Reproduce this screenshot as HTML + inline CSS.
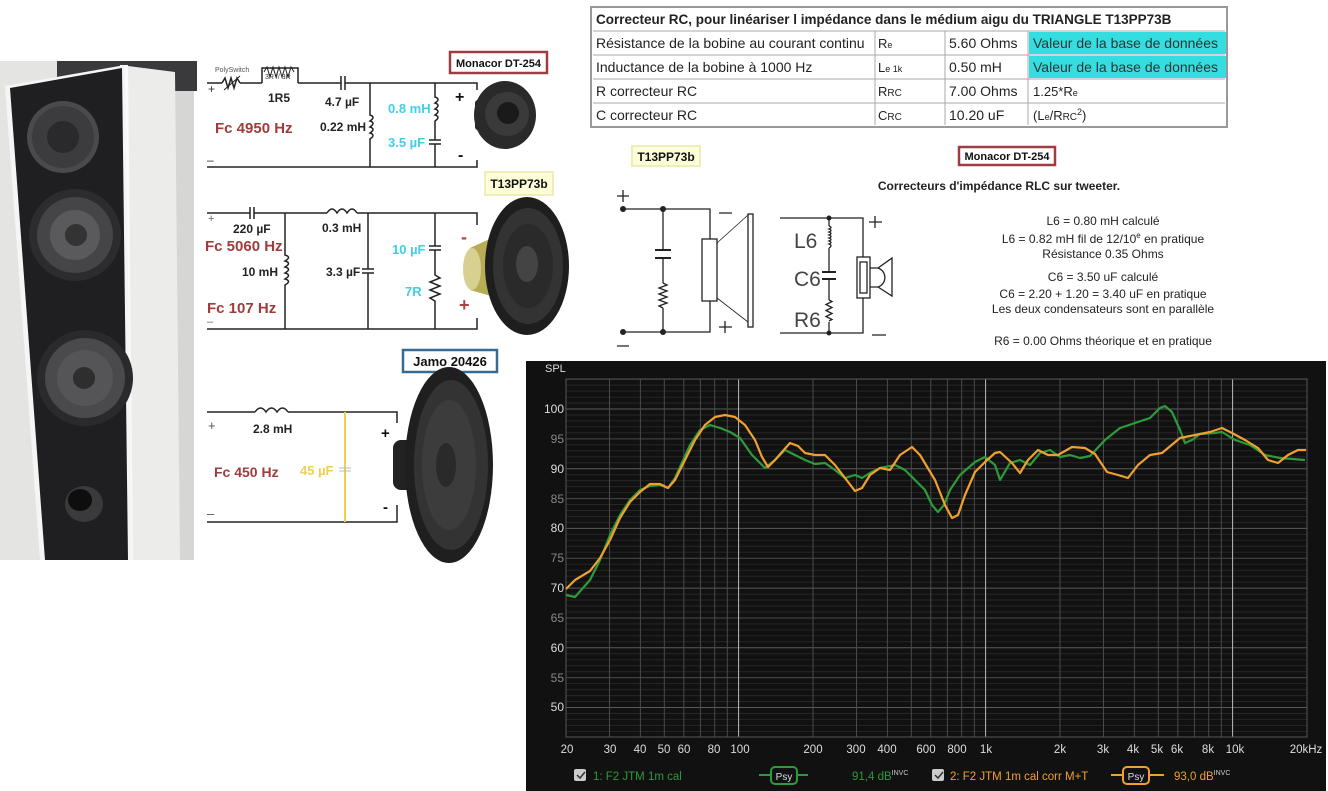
<!DOCTYPE html>
<html><head><meta charset="utf-8"><style>
html,body{margin:0;padding:0;background:#fff;width:1328px;height:791px;overflow:hidden}
svg{display:block}
text{font-family:"Liberation Sans",Arial,sans-serif}
</style></head><body>
<svg width="1328" height="791" viewBox="0 0 1328 791" xmlns="http://www.w3.org/2000/svg">
<!-- ===== Photo of speaker ===== -->
<rect x="0" y="61" width="194" height="499" fill="#d6d6d4"/>
<rect x="0" y="61" width="60" height="499" fill="#e4e4e2"/>
<rect x="57" y="61" width="140" height="30" fill="#3a3a3c"/>
<polygon points="120,65 175,72 180,560 128,560" fill="#ececea"/>
<polygon points="120,65 128,65 133,560 126,560" fill="#fafafa"/>
<polygon points="5,86 125,65 132,560 40,560" fill="#f5f5f5"/>
<polygon points="10,88 122,68 128,560 45,560" fill="#1f1f21"/>
<circle cx="63" cy="137" r="36" fill="#4a4a4c"/><circle cx="63" cy="137" r="31" fill="#3c3c3e"/><circle cx="63" cy="137" r="16" fill="#2a2a2c"/>
<circle cx="75" cy="235" r="46" fill="#2c2c2e"/><circle cx="75" cy="235" r="38" fill="#454547"/><circle cx="75" cy="235" r="25" fill="#5a5a5c"/><circle cx="76" cy="235" r="11" fill="#333"/>
<circle cx="85" cy="378" r="48" fill="#2a2a2c"/><circle cx="85" cy="378" r="40" fill="#4a4a4c"/><circle cx="85" cy="378" r="28" fill="#555557"/><circle cx="84" cy="378" r="11" fill="#2e2e2e"/>
<ellipse cx="84" cy="504" rx="19" ry="18" fill="#3a3a3c"/><ellipse cx="80" cy="500" rx="12" ry="11" fill="#0e0e0e"/>
<!-- ===== Circuit 1 ===== -->
<g stroke="#222" stroke-width="1.5" fill="none">
<path d="M207 83 H222 M240 83 H262 M298 83 H341 M345 83 H477 V90 M477 160 V167 H207"/>
<path d="M222 83 l3 -5 l3 10 l3 -10 l3 10 l3 -10 l3 5" />
<path d="M224 90 L240 76" stroke-width="1"/>
<path d="M262 83 V68 H298 V83"/>
<path d="M264 72 l3 -5 l3 10 l3 -10 l3 10 l3 -10 l3 10 l3 -10 l3 10 l3 -10 l3 5" stroke-width="1"/>
<path d="M341 76 V90 M345 76 V90"/>
<path d="M370 83 V115 q6 2 0 6 q6 2 0 6 q6 2 0 6 q6 2 0 6 V167"/>
<path d="M435 83 V97 q6 2 0 6 q6 2 0 6 q6 2 0 6 q6 2 0 6 V140 M435 144 V167"/>
<path d="M429 140 H441 M429 144 H441"/>
</g>
<text x="215" y="72" font-size="7" fill="#555">PolySwitch</text>
<text x="265" y="79" font-size="7" fill="#333">3R // 3R</text>
<text x="208" y="93" font-size="12" fill="#333">+</text>
<text x="207" y="164" font-size="12" fill="#333">–</text>
<text x="268" y="102" font-size="12" font-weight="bold" fill="#222">1R5</text>
<text x="325" y="106" font-size="12" font-weight="bold" fill="#222">4.7 µF</text>
<text x="320" y="131" font-size="12" font-weight="bold" fill="#222">0.22 mH</text>
<text x="215" y="133" font-size="15" font-weight="bold" fill="#a03c3c">Fc 4950 Hz</text>
<text x="388" y="113" font-size="13" font-weight="bold" fill="#3fd0e8">0.8 mH</text>
<text x="388" y="147" font-size="13" font-weight="bold" fill="#3fd0e8">3.5 µF</text>
<text x="455" y="102" font-size="16" font-weight="bold" fill="#111">+</text>
<text x="458" y="160" font-size="16" font-weight="bold" fill="#111">-</text>
<rect x="450" y="52" width="97" height="21" fill="#fff" stroke="#a03c40" stroke-width="2.5"/>
<text x="498.5" y="67" font-size="11" font-weight="bold" fill="#111" text-anchor="middle">Monacor DT-254</text>
<rect x="475" y="100" width="12" height="30" rx="3" fill="#222"/>
<ellipse cx="505" cy="115" rx="31" ry="34" fill="#2a2a2a"/><circle cx="507" cy="114" r="22" fill="#3a3a3a"/><circle cx="508" cy="113" r="11" fill="#1a1a1a"/>
<!-- ===== Circuit 2 ===== -->
<g stroke="#222" stroke-width="1.5" fill="none">
<path d="M207 213 H250 M254 213 H327 M357 213 H477 V225 M477 318 V329 H207"/>
<path d="M250 207 V219 M254 207 V219"/>
<path d="M327 213 q5 -8 10 0 q5 -8 10 0 q5 -8 10 0"/>
<path d="M285 213 V255 q7 2 0 6 q7 2 0 6 q7 2 0 6 q7 2 0 6 q7 2 0 6 V329"/>
<path d="M368 213 V269 M368 273 V329 M362 269 H374 M362 273 H374"/>
<path d="M435 213 V246 M435 250 V275 l5 3 l-10 4 l10 4 l-10 4 l10 4 l-10 4 l5 3 V329 M429 246 H441 M429 250 H441"/>
</g>
<text x="208" y="222" font-size="11" fill="#666">+</text>
<text x="207" y="325" font-size="11" fill="#666">–</text>
<text x="233" y="233" font-size="12" font-weight="bold" fill="#222">220 µF</text>
<text x="205" y="251" font-size="15" font-weight="bold" fill="#a03c3c">Fc 5060 Hz</text>
<text x="242" y="276" font-size="12" font-weight="bold" fill="#222">10 mH</text>
<text x="207" y="313" font-size="15" font-weight="bold" fill="#a03c3c">Fc 107 Hz</text>
<text x="322" y="232" font-size="12" font-weight="bold" fill="#222">0.3 mH</text>
<text x="326" y="276" font-size="12" font-weight="bold" fill="#222">3.3 µF</text>
<text x="392" y="254" font-size="13" font-weight="bold" fill="#3fd0e8">10 µF</text>
<text x="405" y="296" font-size="13" font-weight="bold" fill="#3fd0e8">7R</text>
<text x="461" y="243" font-size="18" font-weight="bold" fill="#b04040">-</text>
<text x="459" y="311" font-size="18" font-weight="bold" fill="#b04040">+</text>
<rect x="485" y="172" width="68" height="23" fill="#fdfdd8" stroke="#eeeebb" stroke-width="2"/>
<text x="519" y="188" font-size="12" font-weight="bold" fill="#111" text-anchor="middle">T13PP73b</text>
<polygon points="470,248 505,232 505,300 470,290" fill="#b8ac55"/>
<ellipse cx="472" cy="269" rx="9" ry="21" fill="#d8d090"/>
<ellipse cx="527" cy="266" rx="42" ry="69" fill="#1e1e1e"/><ellipse cx="528" cy="266" rx="35" ry="58" fill="#333"/><ellipse cx="528" cy="266" rx="25" ry="42" fill="#2a2a2a"/><ellipse cx="527" cy="264" rx="11" ry="18" fill="#444"/>
<!-- ===== Circuit 3 ===== -->
<g stroke="#222" stroke-width="1.5" fill="none">
<path d="M207 412 H255 M288 412 H397 V423 M397 505 V522 H207"/>
<path d="M255 412 q5.5 -8 11 0 q5.5 -8 11 0 q5.5 -8 11 0"/>
</g>
<path d="M345 412 V522" stroke="#f0cf50" stroke-width="2"/>
<path d="M339 468 H351 M339 471 H351" stroke="#bbb" stroke-width="1"/>
<text x="208" y="430" font-size="13" fill="#555">+</text>
<text x="207" y="518" font-size="13" fill="#555">–</text>
<text x="253" y="433" font-size="12" font-weight="bold" fill="#222">2.8 mH</text>
<text x="214" y="477" font-size="14" font-weight="bold" fill="#a03c3c">Fc 450 Hz</text>
<text x="300" y="475" font-size="13" font-weight="bold" fill="#efcf55">45 µF</text>
<text x="381" y="438" font-size="15" font-weight="bold" fill="#111">+</text>
<text x="383" y="512" font-size="15" font-weight="bold" fill="#111">-</text>
<rect x="403" y="350" width="94" height="22" fill="#fff" stroke="#3a6a90" stroke-width="2.5"/>
<text x="450" y="366" font-size="13" font-weight="bold" fill="#111" text-anchor="middle">Jamo 20426</text>
<rect x="393" y="440" width="25" height="50" rx="8" fill="#222"/>
<ellipse cx="449" cy="465" rx="44" ry="98" fill="#1f1f1f"/><ellipse cx="451" cy="465" rx="37" ry="85" fill="#333"/><ellipse cx="449" cy="465" rx="27" ry="65" fill="#3c3c3c"/><ellipse cx="446" cy="465" rx="10" ry="22" fill="#2a2a2a"/>
<!-- ===== Table ===== -->
<g font-size="14" fill="#222">
<rect x="591" y="7" width="636" height="120" fill="#fff" stroke="#999" stroke-width="2"/>
<rect x="1029" y="32" width="197" height="22" fill="#33dde0"/>
<rect x="1029" y="56" width="197" height="22" fill="#33dde0"/>
<g stroke="#aaa" stroke-width="1">
<path d="M593 31 H1225 M593 55 H1225 M593 79 H1225 M593 103 H1225"/>
<path d="M875 31 V125 M945 31 V125 M1028 31 V125"/>
</g>
<text x="596" y="24" font-weight="bold" font-size="13.5">Correcteur RC, pour linéariser l impédance dans le médium aigu du TRIANGLE T13PP73B</text>
<text x="596" y="48">Résistance de la bobine au courant continu</text>
<text x="596" y="72">Inductance de la bobine à 1000 Hz</text>
<text x="596" y="96">R correcteur RC</text>
<text x="596" y="120">C correcteur RC</text>
<text x="878" y="48" font-size="13">R<tspan font-size="9">e</tspan></text>
<text x="878" y="72" font-size="13">L<tspan font-size="9">e 1k</tspan></text>
<text x="878" y="96" font-size="13">R<tspan font-size="10">RC</tspan></text>
<text x="878" y="120" font-size="13">C<tspan font-size="10">RC</tspan></text>
<text x="949" y="48">5.60 Ohms</text>
<text x="949" y="72">0.50 mH</text>
<text x="949" y="96">7.00 Ohms</text>
<text x="949" y="120">10.20 uF</text>
<text x="1033" y="48" fill="#333">Valeur de la base de données</text>
<text x="1033" y="72" fill="#333">Valeur de la base de données</text>
<text x="1033" y="96" font-size="13">1.25*R<tspan font-size="9">e</tspan></text>
<text x="1033" y="120" font-size="13">(L<tspan font-size="9">e</tspan>/R<tspan font-size="10">RC</tspan><tspan font-size="9" dy="-5">2</tspan><tspan dy="5">)</tspan></text>
</g>
<!-- ===== Corrector diagrams ===== -->
<rect x="632" y="146" width="68" height="20" fill="#fdfdd8" stroke="#eeeebb" stroke-width="2"/>
<text x="666" y="161" font-size="12" font-weight="bold" fill="#111" text-anchor="middle">T13PP73b</text>
<g stroke="#222" stroke-width="1.3" fill="none">
<path d="M623 209 H710 V239 M623 332 H710 V301 M663 209 V250 M663 258 V283 M663 308 V332"/>
<path d="M655 250 H671 M655 258 H671" stroke-width="2"/>
<path d="M663 283 l4 2 l-8 3 l8 3 l-8 3 l8 3 l-8 3 l8 3 l-8 3 l4 2"/>
<rect x="702" y="239" width="15" height="62"/>
<path d="M717 243 L748 215 M717 298 L748 322" stroke-width="0.8"/>
<rect x="748" y="214" width="5" height="113"/>
<path d="M617 196 H629 M623 190 V202 M617 346 H629 M719 213 H732 M719 327 H732 M725 321 V333"/>
</g>
<g fill="#222"><circle cx="623" cy="209" r="3"/><circle cx="663" cy="209" r="3"/><circle cx="623" cy="332" r="3"/><circle cx="663" cy="332" r="3"/></g>
<rect x="959" y="147" width="96" height="18" fill="#fff" stroke="#a03c40" stroke-width="2.5"/>
<text x="1007" y="160" font-size="11" font-weight="bold" fill="#111" text-anchor="middle">Monacor DT-254</text>
<text x="999" y="190" font-size="12" font-weight="bold" fill="#222" text-anchor="middle">Correcteurs d'impédance RLC sur  tweeter.</text>
<g stroke="#222" stroke-width="1.3" fill="none">
<path d="M780 218 H863 V257 M780 333 H863 V298 M829 218 V226 M829 248 V272 M829 279 V300 M829 322 V333"/>
<path d="M829 226 q4 1.5 0 3 q4 1.5 0 3 q4 1.5 0 3 q4 1.5 0 3 q4 1.5 0 3 q4 1.5 0 3 q4 1.5 0 4"/>
<path d="M822 272 H836 M822 279 H836" stroke-width="2"/>
<path d="M829 300 l3 1.5 l-6 3 l6 3 l-6 3 l6 3 l-6 3 l6 3 l-3 1.5"/>
<rect x="857" y="257" width="13" height="41"/>
<rect x="860" y="262" width="7" height="31"/>
<path d="M870 268 H878 L892 258 V296 L878 287 H870"/>
<path d="M878 268 A10 10 0 0 1 878 287"/>
<path d="M869 222 H882 M875 216 V228 M872 335 H886"/>
</g>
<circle cx="829" cy="218" r="2.5" fill="#222"/><circle cx="829" cy="333" r="2.5" fill="#222"/>
<g font-size="21" fill="#444"><text x="794" y="248">L6</text><text x="794" y="286">C6</text><text x="794" y="327">R6</text></g>
<g font-size="12" fill="#222" text-anchor="middle">
<text x="1103" y="225">L6 = 0.80 mH calculé</text>
<text x="1103" y="243">L6 = 0.82 mH fil de 12/10<tspan font-size="8" dy="-5">e</tspan><tspan dy="5"> en pratique</tspan></text>
<text x="1103" y="258">Résistance 0.35 Ohms</text>
<text x="1103" y="281">C6 = 3.50 uF calculé</text>
<text x="1103" y="298">C6 = 2.20 + 1.20 = 3.40 uF en pratique</text>
<text x="1103" y="313">Les deux condensateurs sont en parallèle</text>
<text x="1103" y="345">R6 = 0.00 Ohms théorique et en pratique</text>
</g>
<!-- ===== Chart ===== -->
<rect x="526" y="361" width="800" height="430" fill="#111"/>
<g id="grid"></g>
<rect x="566" y="379" width="741" height="358" fill="none" stroke="#555" stroke-width="1"/>
<text x="545" y="372" font-size="11" fill="#ddd">SPL</text>
<g font-size="12" text-anchor="end">
<text x="564" y="413" fill="#ddd">100</text><text x="564" y="443" fill="#888">95</text>
<text x="564" y="473" fill="#ddd">90</text><text x="564" y="503" fill="#888">85</text>
<text x="564" y="532" fill="#ddd">80</text><text x="564" y="562" fill="#888">75</text>
<text x="564" y="592" fill="#ddd">70</text><text x="564" y="622" fill="#888">65</text>
<text x="564" y="652" fill="#ddd">60</text><text x="564" y="682" fill="#888">55</text>
<text x="564" y="711" fill="#ddd">50</text>
</g>
<g font-size="11.5" fill="#ddd" text-anchor="middle">
<text x="567" y="753">20</text><text x="610" y="753">30</text><text x="640" y="753">40</text><text x="664" y="753">50</text><text x="684" y="753">60</text><text x="714" y="753">80</text><text x="740" y="753">100</text><text x="813" y="753">200</text><text x="856" y="753">300</text><text x="887" y="753">400</text><text x="926" y="753">600</text><text x="957" y="753">800</text><text x="986" y="753">1k</text><text x="1060" y="753">2k</text><text x="1103" y="753">3k</text><text x="1133" y="753">4k</text><text x="1157" y="753">5k</text><text x="1177" y="753">6k</text><text x="1208" y="753">8k</text><text x="1235" y="753">10k</text><text x="1306" y="753">20kHz</text>
</g>
<polyline fill="none" stroke="#2e9a3a" stroke-width="2.2" stroke-linejoin="round" points="566,595 575,597 590,580 600,560 610,535 620,515 630,500 640,490 650,486 660,485 668,488 675,478 690,445 700,430 710,425 720,428 730,432 740,438 752,455 765,468 775,460 785,450 795,455 805,460 815,464 825,463 835,470 845,478 855,475 862,478 870,473 880,468 895,465 905,470 915,480 925,490 932,505 938,512 944,505 950,490 960,475 975,462 985,457 995,465 1000,480 1010,463 1020,460 1030,465 1040,453 1050,450 1060,457 1070,455 1080,458 1090,456 1105,440 1120,428 1135,423 1150,418 1160,408 1165,406 1172,412 1180,430 1185,443 1192,440 1200,434 1215,433 1222,432 1235,440 1250,445 1265,455 1280,458 1305,460"/>
<polyline fill="none" stroke="#f0a030" stroke-width="2.2" stroke-linejoin="round" points="566,589 575,580 590,571 600,558 610,540 620,518 630,502 640,492 650,484 660,484 668,488 675,480 685,460 695,440 705,425 715,417 725,415 735,417 745,425 755,440 762,457 768,467 775,460 782,452 790,443 798,446 805,453 815,455 825,455 835,465 845,478 855,491 862,488 870,475 880,468 890,470 900,455 912,447 920,455 935,480 945,505 952,518 958,515 965,495 975,472 985,462 995,453 1000,452 1012,463 1020,473 1028,460 1038,450 1048,455 1058,455 1072,447 1085,448 1095,454 1107,472 1118,475 1128,478 1138,465 1150,455 1162,453 1180,438 1195,435 1210,432 1222,428 1232,433 1245,440 1258,448 1268,460 1278,463 1288,455 1298,450 1306,450"/>
<!-- legend -->
<rect x="574" y="769" width="12" height="12" rx="2" fill="#ccc"/><path d="M577 775 l3 3 l5 -6" stroke="#333" stroke-width="1.5" fill="none"/>
<text x="593" y="780" font-size="11.5" fill="#2e9a3a">1: F2 JTM 1m cal</text>
<path d="M759 775 H771 M797 775 H808" stroke="#2e9a3a" stroke-width="2"/>
<rect x="771" y="767" width="26" height="17" rx="4" fill="#111" stroke="#2e9a3a" stroke-width="2"/>
<text x="784" y="780" font-size="10" fill="#ddd" text-anchor="middle">Psy</text>
<text x="852" y="780" font-size="11.5" fill="#2e9a3a">91,4 dB<tspan font-size="7" dy="-5" fill="#ccc">INVC</tspan></text>
<rect x="932" y="769" width="12" height="12" rx="2" fill="#ccc"/><path d="M935 775 l3 3 l5 -6" stroke="#333" stroke-width="1.5" fill="none"/>
<text x="950" y="780" font-size="11.5" fill="#f0a030">2: F2 JTM 1m cal corr M+T</text>
<path d="M1111 775 H1123 M1149 775 H1164" stroke="#f0a030" stroke-width="2"/>
<rect x="1123" y="767" width="26" height="17" rx="4" fill="#111" stroke="#f0a030" stroke-width="2"/>
<text x="1136" y="780" font-size="10" fill="#ddd" text-anchor="middle">Psy</text>
<text x="1174" y="780" font-size="11.5" fill="#f0a030">93,0 dB<tspan font-size="7" dy="-5" fill="#ccc">INVC</tspan></text>
</svg>
<script>
(function(){
var g=document.getElementById('grid'),s='';
function X(f){return 566+247*Math.log10(f/20);}
function Y(d){return 409+(100-d)*5.97;}
for(var d=46;d<=105;d++){var y=Y(d).toFixed(1);var c=(d%10==0)?'#5a5a5a':(d%5==0?'#4a4a4a':'#262626');s+='<line x1="566" x2="1307" y1="'+y+'" y2="'+y+'" stroke="'+c+'" stroke-width="1"/>';}
var fs=[30,40,50,60,70,80,90,100,200,300,400,500,600,700,800,900,1000,2000,3000,4000,5000,6000,7000,8000,9000,10000];
fs.forEach(function(f){var x=X(f).toFixed(1);var c=(f==100||f==1000||f==10000)?'#bbb':'#4a4a4a';s+='<line y1="379" y2="737" x1="'+x+'" x2="'+x+'" stroke="'+c+'" stroke-width="1"/>';});
g.innerHTML=s;
})();
</script>
</body></html>
